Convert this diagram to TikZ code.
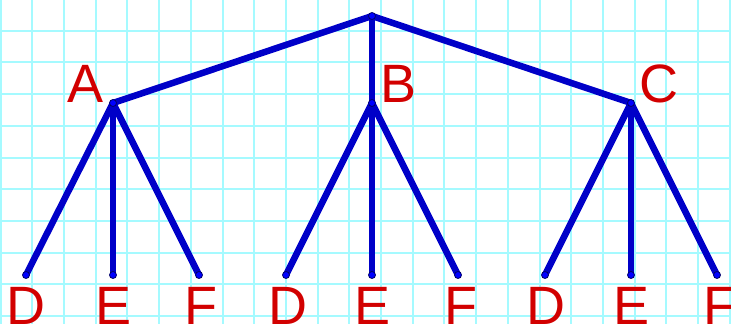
\documentclass[tikz,border=0pt]{standalone}
\usepackage{fontspec}
\setmainfont{Liberation Sans}
\definecolor{gridc}{RGB}{165,250,255}
\definecolor{edgec}{RGB}{0,0,200}
\definecolor{dotc}{RGB}{0,0,255}
\definecolor{labc}{RGB}{210,0,0}
\tikzset{
  gridline/.style={draw=gridc, line width=2pt},
  treeedge/.style={draw=edgec, line width=6.5pt, line cap=butt},
  dotnode/.style={circle, fill=dotc, draw=black!60!blue, line width=0.8pt, minimum size=7pt, inner sep=0pt},
  lab/.style={text=labc, font=\fontsize{54}{54}\selectfont, inner sep=0pt, anchor=base}
}
\begin{document}
\begin{tikzpicture}[x=1pt,y=-1pt]
\useasboundingbox (0,0) rectangle (731,324);
\fill[white] (0,0) rectangle (731,324);
\foreach \i in {0,...,23} \draw[gridline] ({0.6+\i*31.7},0) -- ({0.6+\i*31.7},324);
\foreach \j in {0,...,11} \draw[gridline] (0,{-1+\j*31.7}) -- (731,{-1+\j*31.7});
% positions
\coordinate (r) at (372,16);
\coordinate (a) at (113,103);
\coordinate (b) at (372,103);
\coordinate (c) at (631,103);
\coordinate (ad) at (26,275);
\coordinate (ae) at (113,275);
\coordinate (af) at (199,275);
\coordinate (bd) at (286,275);
\coordinate (be) at (372,275);
\coordinate (bf) at (458,275);
\coordinate (cd) at (545,275);
\coordinate (ce) at (631,275);
\coordinate (cf) at (717,275);
% edges
\draw[treeedge] (r) -- (a);
\draw[treeedge] (r) -- (b);
\draw[treeedge] (r) -- (c);
\foreach \p in {a,b,c} {
  \draw[treeedge] (\p) -- (\p d);
  \draw[treeedge] (\p) -- (\p e);
  \draw[treeedge] (\p) -- (\p f);
}
% dots
\foreach \p in {r,a,b,c,ad,ae,af,bd,be,bf,cd,ce,cf}
  \node[dotnode] (\p dot) at (\p) {};
% labels
\node[lab] (la) at (86,102) {A};
\node[lab] (lb) at (399,102) {B};
\node[lab] (lc) at (659,102) {C};
\node[lab] (lad) at (26,324) {D};
\node[lab] (lae) at (114,324) {E};
\node[lab] (laf) at (201,324) {F};
\node[lab] (lbd) at (288,324) {D};
\node[lab] (lbe) at (373,324) {E};
\node[lab] (lbf) at (461,324) {F};
\node[lab] (lcd) at (546,324) {D};
\node[lab] (lce) at (632,324) {E};
\node[lab] (lcf) at (720,324) {F};
\end{tikzpicture}
\end{document}
